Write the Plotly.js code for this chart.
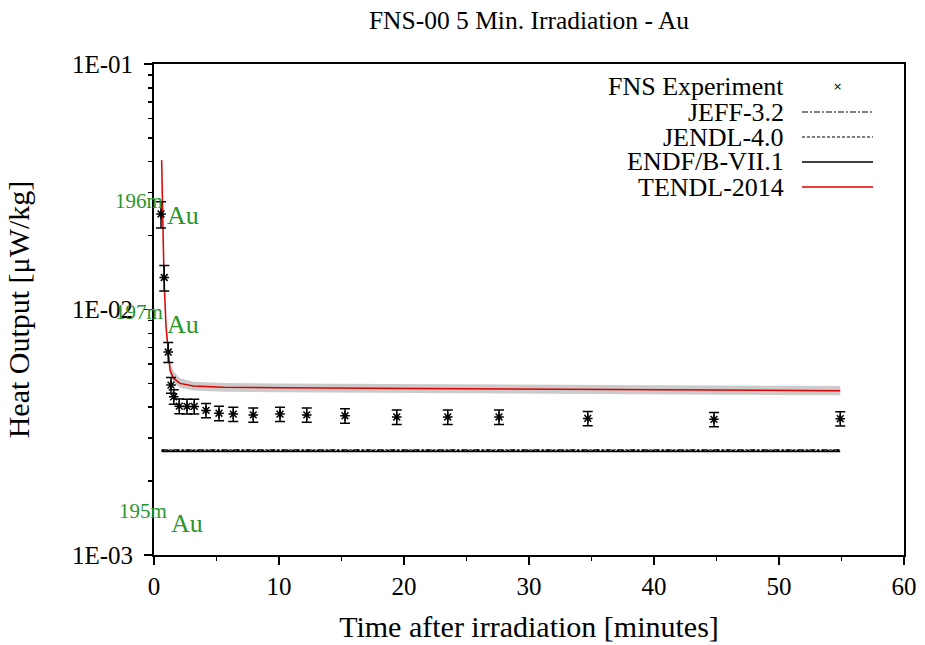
<!DOCTYPE html>
<html>
<head>
<meta charset="utf-8">
<script src="https://cdn.plot.ly/plotly-3.0.1.min.js"></script>
<style>html,body{margin:0;padding:0;background:#fff;}#chart{width:925px;height:645px;}</style>
</head>
<body>
<div id="chart"></div>
<script>
// ---- data ----
const fnsTime = [0.56, 0.82, 1.14, 1.36, 1.58, 2.02, 2.64, 3.22, 4.16, 5.2, 6.34, 7.94, 10.08, 12.22, 15.28, 19.42, 23.5, 27.6, 34.7, 44.8, 54.9];
const fnsHeat = [0.0245, 0.0135, 0.00671, 0.00492, 0.00441, 0.00404, 0.00403, 0.00403, 0.00388, 0.00378, 0.00375, 0.00372, 0.00375, 0.00372, 0.00369, 0.00365, 0.00365, 0.00365, 0.00360, 0.00357, 0.00359];
const fnsErr  = [0.0030, 0.0016, 0.00062, 0.00036, 0.00030, 0.00028, 0.00028, 0.00028, 0.00026, 0.00026, 0.00025, 0.00025, 0.00025, 0.00025, 0.00025, 0.00025, 0.00025, 0.00025, 0.00024, 0.00024, 0.00024];

const tendlTime = [0.61, 0.69, 0.80, 0.96, 1.12, 1.28, 1.55, 2.08, 3.15, 5.55, 10, 20, 30.9, 40, 54.9];
const tendlHeat = [0.0406, 0.0245, 0.0135, 0.00851, 0.00664, 0.00567, 0.00525, 0.00500, 0.00488, 0.00482, 0.00480, 0.00477, 0.00475, 0.00471, 0.00467];
const tendlHi   = [0.0420, 0.0255, 0.0141, 0.0090, 0.0071, 0.0061, 0.0056, 0.00525, 0.00508, 0.00502, 0.00500, 0.00497, 0.00495, 0.00492, 0.00488];
const tendlLo   = [0.0392, 0.0236, 0.0130, 0.0082, 0.0064, 0.00545, 0.00505, 0.00480, 0.00468, 0.00462, 0.00460, 0.00457, 0.00455, 0.00451, 0.00447];

const libTime   = [0.6, 54.9];
const jeffHeat  = [0.00268, 0.00268];
const jendlHeat = [0.00267, 0.00267];
const endfHeat  = [0.00264, 0.00264];

const yTickVals = [0.001, 0.01, 0.1];
const yTickText = ['1E-03', '1E-02', '1E-01'];

const legendNames = ['FNS Experiment', 'JEFF-3.2', 'JENDL-4.0', 'ENDF/B-VII.1', 'TENDL-2014'];
const isotopes = [
  {sup: '196m', el: 'Au'},
  {sup: '197m', el: 'Au'},
  {sup: '195m', el: 'Au'}
];

// ---- layout helpers (plot area in pixels) ----
const L = 154, R = 904, T = 64, B = 555;
const W = R - L, H = B - T;
const px = x => (x - L) / W;
const py = y => (B - y) / H;
const FONT = 'Liberation Serif, Times New Roman, serif';
const GREEN = '#2a962a';

const traces = [
  {x: tendlTime, y: tendlLo, mode: 'lines', line: {width: 0, color: 'rgba(0,0,0,0)'}, hoverinfo: 'skip', showlegend: false},
  {x: tendlTime, y: tendlHi, mode: 'lines', line: {width: 0, color: 'rgba(0,0,0,0)'}, fill: 'tonexty', fillcolor: 'rgba(185,185,185,0.75)', hoverinfo: 'skip', showlegend: false},
  {x: libTime, y: jeffHeat, mode: 'lines', name: legendNames[1], line: {color: '#000', width: 1.2, dash: '6px,2px,2px,2px'}, showlegend: false},
  {x: libTime, y: jendlHeat, mode: 'lines', name: legendNames[2], line: {color: '#000', width: 1.2, dash: '3px,2px'}, showlegend: false},
  {x: libTime, y: endfHeat, mode: 'lines', name: legendNames[3], line: {color: '#000', width: 1.5}, showlegend: false},
  {x: tendlTime, y: tendlHeat, mode: 'lines', name: legendNames[4], line: {color: '#e00000', width: 1.5}, showlegend: false},
  {x: fnsTime, y: fnsHeat, mode: 'markers', name: legendNames[0],
   marker: {symbol: 'asterisk-open', size: 8, color: '#000', line: {color: '#000', width: 1.5}},
   error_y: {type: 'data', array: fnsErr, visible: true, color: '#000', thickness: 1.5, width: 5},
   showlegend: false}
];

const annotations = [];
const shapes = [];

// custom gnuplot-style key: text right-aligned, sample on the right
const rowY = [86, 112, 137, 162, 187];
const textRight = 786, sampleL = 802, sampleR = 873;
legendNames.forEach((n, i) => {
  annotations.push({xref: 'paper', yref: 'paper', x: px(textRight), y: py(rowY[i]), xanchor: 'right', yanchor: 'middle',
    text: n, showarrow: false, font: {family: FONT, size: 26, color: '#000'}});
});
annotations.push({xref: 'paper', yref: 'paper', x: px((sampleL + sampleR) / 2), y: py(rowY[0]), xanchor: 'center', yanchor: 'middle',
  text: '×', showarrow: false, font: {family: 'DejaVu Sans', size: 11, color: '#000'}});
const sampleStyles = [
  {color: '#000', width: 1.2, dash: '6px,2px,2px,2px'},
  {color: '#000', width: 1.2, dash: '3px,2px'},
  {color: '#000', width: 1.5},
  {color: '#e00000', width: 1.5}
];
sampleStyles.forEach((st, i) => {
  shapes.push({type: 'line', xref: 'paper', yref: 'paper', x0: px(sampleL), x1: px(sampleR), y0: py(rowY[i + 1]), y1: py(rowY[i + 1]), line: st});
});

// isotope labels
const isoPos = [
  {supY: 201, elY: 215, elX: 165},
  {supY: 312, elY: 324, elX: 165},
  {supY: 511, elY: 523, elX: 169}
];
isotopes.forEach((iso, i) => {
  const p = isoPos[i];
  annotations.push({xref: 'paper', yref: 'paper', x: px(p.elX), y: py(p.supY), xanchor: 'right', yanchor: 'middle',
    text: iso.sup, showarrow: false, font: {family: FONT, size: 21, color: GREEN}});
  annotations.push({xref: 'paper', yref: 'paper', x: px(p.elX), y: py(p.elY), xanchor: 'left', yanchor: 'middle',
    text: iso.el, showarrow: false, font: {family: FONT, size: 26, color: GREEN}});
});

const layout = {
  width: 925, height: 645,
  margin: {l: L, r: 925 - R, t: T, b: 645 - B, pad: 0},
  paper_bgcolor: '#fff', plot_bgcolor: '#fff',
  showlegend: false,
  font: {family: FONT, color: '#000', size: 25},
  title: {text: 'FNS-00 5 Min. Irradiation - Au', font: {family: FONT, size: 25.5, color: '#000'},
          xref: 'paper', x: 0.5, xanchor: 'center', yref: 'container', y: 1 - 20 / 645, yanchor: 'middle'},
  xaxis: {
    range: [0, 60], dtick: 10, tick0: 0,
    ticks: 'outside', ticklen: 8, tickwidth: 1.5, tickcolor: '#000',
    minor: {dtick: 5, ticks: 'outside', ticklen: 4, tickwidth: 1.5, tickcolor: '#000', showgrid: false},
    showline: true, linewidth: 2, linecolor: '#000', mirror: true,
    showgrid: false, zeroline: false,
    tickfont: {family: FONT, size: 25}, ticklabelstandoff: 0,
    title: {text: 'Time after irradiation [minutes]', font: {family: FONT, size: 30}, standoff: 17}
  },
  yaxis: {
    type: 'log', range: [-3, -1],
    tickmode: 'array', tickvals: yTickVals, ticktext: yTickText,
    ticks: 'outside', ticklen: 8, tickwidth: 1.5, tickcolor: '#000',
    minor: {dtick: 'D1', ticks: 'outside', ticklen: 4, tickwidth: 1.5, tickcolor: '#000', showgrid: false},
    showline: true, linewidth: 2, linecolor: '#000', mirror: true,
    showgrid: false, zeroline: false,
    tickfont: {family: FONT, size: 25}, ticklabelstandoff: 6,
    title: {text: 'Heat Output [μW/kg]', font: {family: FONT, size: 30}, standoff: 33}
  },
  annotations: annotations,
  shapes: shapes
};

Plotly.newPlot('chart', traces, layout, {displayModeBar: false, staticPlot: true});
</script>
</body>
</html>
